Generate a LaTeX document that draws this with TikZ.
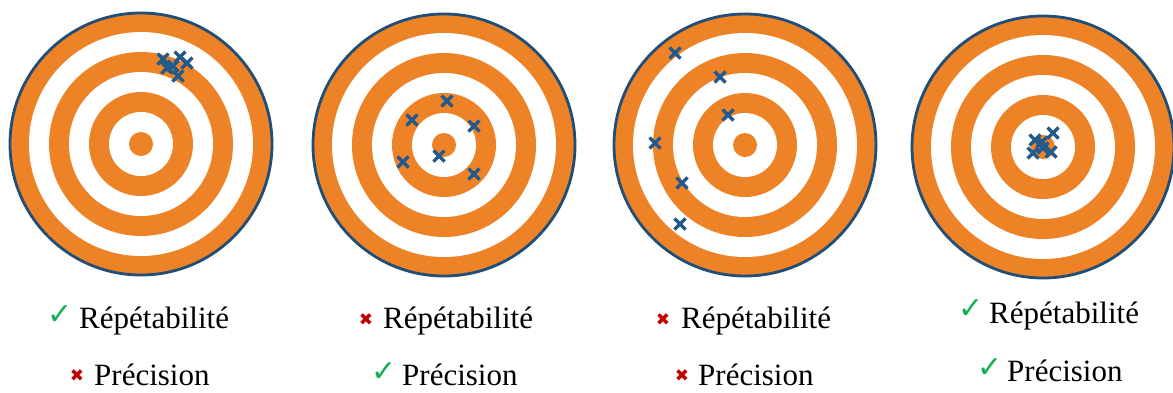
\documentclass[tikz,border=0pt]{standalone}
\usepackage{fontspec}
\setmainfont{Liberation Serif}
\newfontfamily\symfont{DejaVu Sans}
\definecolor{torange}{HTML}{EE8226}
\definecolor{tblue}{HTML}{235A8E}
\definecolor{tnavy}{HTML}{1F4E79}
\definecolor{okgreen}{HTML}{10B050}
\definecolor{kored}{HTML}{C00000}
\tikzset{
  target/.pic={
    \fill[torange] (0,0) circle[radius=132pt];
    \fill[white] (0,0) circle[radius=112pt];
    \fill[torange] (0,0) circle[radius=92pt];
    \fill[white] (0,0) circle[radius=72pt];
    \fill[torange] (0,0) circle[radius=52pt];
    \fill[white] (0,0) circle[radius=32pt];
    \fill[torange] (0,0) circle[radius=12pt];
    \draw[tnavy, line width=2.8pt] (0,0) circle[radius=131pt];
  },
  hit/.pic={
    \draw[tblue, line width=3.4pt] (-5.5pt,-5.5pt) -- (5.5pt,5.5pt) (-5.5pt,5.5pt) -- (5.5pt,-5.5pt);
  },
  lbl/.style={anchor=base west, inner sep=0pt, font=\fontsize{31}{36}\selectfont},
  okmark/.style={inner sep=0pt, text=okgreen, font=\symfont\fontsize{30}{34}\selectfont},
  komark/.style={inner sep=0pt, text=kored, font=\symfont\fontsize{17}{20}\selectfont},
}
\begin{document}
\begin{tikzpicture}[x=1pt,y=-1pt]
\useasboundingbox (0,0) rectangle (1173,392);
% targets
\pic at (141,144) {target};
\pic at (444,145) {target};
\pic at (745,145) {target};
\begin{scope}[shift={(1043,147)}, scale=0.985]
\pic at (0,0) {target};
\end{scope}
% hits target 1
\pic at (163,59) {hit};
\pic at (167,68) {hit};
\pic at (173,66) {hit};
\pic at (180,57) {hit};
\pic at (187,63) {hit};
\pic at (178,76) {hit};
% hits target 2
\pic at (447,101) {hit};
\pic at (412,120) {hit};
\pic at (474,126) {hit};
\pic at (439,156) {hit};
\pic at (403,162) {hit};
\pic at (474,174) {hit};
% hits target 3
\pic at (675,53) {hit};
\pic at (720,77) {hit};
\pic at (728,115) {hit};
\pic at (655,143) {hit};
\pic at (682,183) {hit};
\pic at (680,224) {hit};
% hits target 4
\pic at (1035,140) {hit};
\pic at (1053,133) {hit};
\pic at (1033,153) {hit};
\pic at (1043,148) {hit};
\pic at (1051,152) {hit};
\pic at (1042,142) {hit};
% labels
\node[okmark] (s1a) at (60,315) {✓};
\node[lbl] (r1) at (79,328) {Répétabilité};
\node[komark] (s1b) at (77,376) {✖};
\node[lbl] (p1) at (94,385) {Précision};
\node[komark] (s2a) at (366,320) {✖};
\node[lbl] (r2) at (383,328) {Répétabilité};
\node[okmark] (s2b) at (384,372) {✓};
\node[lbl] (p2) at (402,385) {Précision};
\node[komark] (s3a) at (663,320) {✖};
\node[lbl] (r3) at (681,328) {Répétabilité};
\node[komark] (s3b) at (682,376) {✖};
\node[lbl] (p3) at (698,385) {Précision};
\node[okmark] (s4a) at (971,309) {✓};
\node[lbl] (r4) at (989,323) {Répétabilité};
\node[okmark] (s4b) at (990,368) {✓};
\node[lbl] (p4) at (1007,381) {Précision};
\end{tikzpicture}
\end{document}
